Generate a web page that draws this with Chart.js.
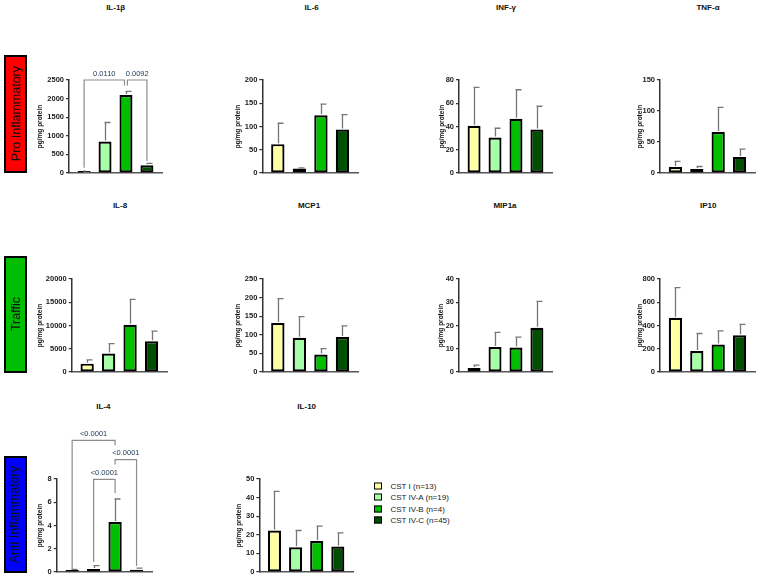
<!DOCTYPE html>
<html><head><meta charset="utf-8">
<script src="https://cdn.jsdelivr.net/npm/chart.js@4.4.0/dist/chart.umd.min.js"></script>
<style>
html,body{margin:0;padding:0;background:#fff;}
#wrap{position:relative;width:760px;height:578px;overflow:hidden;font-family:Arial,"Liberation Sans",sans-serif;}
canvas{position:absolute;}
.ttl{position:absolute;font-weight:bold;font-size:8px;color:#111;transform:translate(-50%,-50%);white-space:nowrap;}
.box{position:absolute;box-sizing:border-box;border:2px solid #000;display:flex;align-items:center;justify-content:center;}
.box span{writing-mode:vertical-rl;transform:rotate(180deg);font-size:12.5px;color:#111;white-space:nowrap;}
.leg{position:absolute;font-size:8px;color:#222;white-space:nowrap;transform:translateY(-50%);}
.sw{position:absolute;box-sizing:border-box;border:1.5px solid #000;width:8px;height:7px;transform:translateY(-50%);}
</style></head><body><div id="wrap"></div>
<script>
// ---- data ----
const groups = ['CST I (n=13)', 'CST IV-A (n=19)', 'CST IV-B (n=4)', 'CST IV-C (n=45)'];
const groupColors = ['#FFFFA6', '#A6FFA6', '#00BF00', '#004F00'];

const il1bMean = [10, 845, 2095, 205];
const il1bSd   = [8, 512, 98, 55];
const il1bTicks = [0, 500, 1000, 1500, 2000, 2500];

const il6Mean = [62, 9.5, 124, 93.6];
const il6Sd   = [45, 1.5, 24, 32];
const il6Ticks = [0, 50, 100, 150, 200];

const infgMean = [40.6, 30.5, 46.6, 37.4];
const infgSd   = [33, 8, 25, 20];
const infgTicks = [0, 20, 40, 60, 80];

const tnfaMean = [9.7, 6.5, 66, 26];
const tnfaSd   = [9, 4, 40, 12.5];
const tnfaTicks = [0, 50, 100, 150];

const il8Mean = [1800, 3960, 10140, 6620];
const il8Sd   = [800, 2150, 5470, 2160];
const il8Ticks = [0, 5000, 10000, 15000, 20000];

const mcp1Mean = [132, 92, 47, 94];
const mcp1Sd   = [65, 57, 16, 30];
const mcp1Ticks = [0, 50, 100, 150, 200, 250];

const mip1aMean = [1.7, 10.75, 10.5, 19];
const mip1aSd   = [1.3, 6.3, 4.5, 11.4];
const mip1aTicks = [0, 10, 20, 30, 40];

const ip10Mean = [466, 181, 236, 316];
const ip10Sd   = [260, 150, 117, 93];
const ip10Ticks = [0, 200, 400, 600, 800];

const il4Mean = [0.09, 0.26, 4.3, 0.2];
const il4Sd   = [0.14, 0.28, 1.98, 0.14];
const il4Ticks = [0, 2, 4, 6, 8];

const il10Mean = [22.3, 13.3, 16.7, 13.7];
const il10Sd   = [21, 9, 8, 7.3];
const il10Ticks = [0, 10, 20, 30, 40, 50];

// significance brackets: group indices, bracket level and leg ends in data units
const il1bBrackets = [
  {from: 0, to: 1.93, y: 2500, leg1: 140, leg2: 2350, label: '0.0110'},
  {from: 2.07, to: 3, y: 2500, leg1: 2350, leg2: 325, label: '0.0092'}
];
const il4Brackets = [
  {from: 0, to: 2, y: 11.33, leg1: 0.26, leg2: 10.9, label: '<0.0001'},
  {from: 2, to: 3, y: 9.67, leg1: 9.24, leg2: 0.52, label: '<0.0001'},
  {from: 1, to: 2, y: 7.97, leg1: 0.86, leg2: 6.8, label: '<0.0001'}
];

// ---- layout ----
const rows = [
  {top: 79.5, bot: 172.5, ty: 6.5},
  {top: 279.3, bot: 372.3, ty: 205},
  {top: 478.7, bot: 571.5, ty: 406}
];
const panels = [
  {title: 'IL-1β', mean: il1bMean, sd: il1bSd, ticks: il1bTicks, br: il1bBrackets, ax: 69, ar: 162, row: 0, d: 29, tx: 115.7},
  {title: 'IL-6', mean: il6Mean, sd: il6Sd, ticks: il6Ticks, ax: 262.3, ar: 358, row: 0, d: 24, tx: 311.7},
  {title: 'INF-γ', mean: infgMean, sd: infgSd, ticks: infgTicks, ax: 459, ar: 551.7, row: 0, d: 17.5, tx: 506},
  {title: 'TNF-α', mean: tnfaMean, sd: tnfaSd, ticks: tnfaTicks, ax: 660, ar: 755, row: 0, d: 20, tx: 708},
  {title: 'IL-8', mean: il8Mean, sd: il8Sd, ticks: il8Ticks, ax: 71.7, ar: 166.7, row: 1, d: 31.7, tx: 120},
  {title: 'MCP1', mean: mcp1Mean, sd: mcp1Sd, ticks: mcp1Ticks, ax: 262.3, ar: 358, row: 1, d: 24, tx: 309},
  {title: 'MIP1a', mean: mip1aMean, sd: mip1aSd, ticks: mip1aTicks, ax: 459, ar: 551.7, row: 1, d: 18, tx: 505},
  {title: 'IP10', mean: ip10Mean, sd: ip10Sd, ticks: ip10Ticks, ax: 660, ar: 755, row: 1, d: 20, tx: 708.3},
  {title: 'IL-4', mean: il4Mean, sd: il4Sd, ticks: il4Ticks, br: il4Brackets, ax: 56.7, ar: 151.7, row: 2, d: 16.7, tx: 103.3},
  {title: 'IL-10', mean: il10Mean, sd: il10Sd, ticks: il10Ticks, ax: 259.3, ar: 353.3, row: 2, d: 20, tx: 306.7}
];
const sideBoxes = [
  {text: 'Pro Inflammatory', color: '#FF0000', x: 4, y: 55, w: 23, h: 118},
  {text: 'Traffic', color: '#00BF00', x: 4, y: 255.5, w: 23, h: 117.5},
  {text: 'Anti Inflammatory', color: '#0000FF', x: 4, y: 456, w: 22.5, h: 117}
];

const wrap = document.getElementById('wrap');
const FONT = 'Arial, "Liberation Sans", sans-serif';
const PAD_TOP = 60, X_H = 8, PAD_R = 4, TITLE_LH = 6.5 * 1.2;
const X_MIN = -0.72, X_MAX = 3.72;

const errorBarPlugin = {
  id: 'errbars',
  afterDatasetsDraw(chart, args, opts) {
    const ctx = chart.ctx, y = chart.scales.y;
    const meta = chart.getDatasetMeta(0);
    ctx.save();
    ctx.strokeStyle = '#777';
    ctx.lineWidth = 1.3;
    meta.data.forEach((el, i) => {
      const top = opts.mean[i] + opts.sd[i];
      const py = y.getPixelForValue(top);
      const x = Math.round(el.x) + 0.5;
      ctx.beginPath();
      ctx.moveTo(x, el.y - 1);
      ctx.lineTo(x, py);
      ctx.moveTo(x - 1, py);
      ctx.lineTo(x + 5, py);
      ctx.stroke();
    });
    ctx.restore();
  }
};

const bracketPlugin = {
  id: 'brackets',
  afterDraw(chart, args, opts) {
    if (!opts.list) return;
    const ctx = chart.ctx, xs = chart.scales.x, ys = chart.scales.y;
    ctx.save();
    opts.list.forEach(b => {
      const x1 = xs.getPixelForValue(b.from), x2 = xs.getPixelForValue(b.to);
      const yy = ys.getPixelForValue(b.y);
      ctx.strokeStyle = '#8c8c8c';
      ctx.lineWidth = 1.2;
      ctx.beginPath();
      ctx.moveTo(x1, ys.getPixelForValue(b.leg1));
      ctx.lineTo(x1, yy);
      ctx.lineTo(x2, yy);
      ctx.lineTo(x2, ys.getPixelForValue(b.leg2));
      ctx.stroke();
      ctx.fillStyle = '#203a5c';
      ctx.font = '7.5px ' + FONT;
      ctx.textAlign = 'center';
      ctx.textBaseline = 'alphabetic';
      ctx.fillText(b.label, (x1 + x2) / 2, yy - 4.5);
    });
    ctx.restore();
  }
};

panels.forEach(p => {
  const r = rows[p.row];
  const W = p.d + TITLE_LH / 2;
  const left = Math.round(p.ax - W);
  const top = Math.round(r.top - PAD_TOP);
  const plotW = p.ar - p.ax, plotH = r.bot - r.top;
  const cw = Math.round(W + plotW + PAD_R);
  const ch = Math.round(PAD_TOP + plotH + X_H);
  const axisW = p.ax - left;
  const cv = document.createElement('canvas');
  cv.width = cw; cv.height = ch;
  cv.style.left = left + 'px'; cv.style.top = top + 'px';
  cv.style.width = cw + 'px'; cv.style.height = ch + 'px';
  wrap.appendChild(cv);

  const t = document.createElement('div');
  t.className = 'ttl';
  t.textContent = p.title;
  t.style.left = p.tx + 'px';
  t.style.top = r.ty + 'px';
  wrap.appendChild(t);

  const yMax = p.ticks[p.ticks.length - 1];
  new Chart(cv, {
    type: 'bar',
    data: {
      datasets: [{
        data: p.mean.map((v, i) => ({x: i, y: v})),
        backgroundColor: groupColors,
        borderColor: '#000',
        borderWidth: 2.2,
        borderSkipped: false,
        minBarLength: 2,
        barPercentage: 0.62,
        categoryPercentage: 1
      }]
    },
    options: {
      responsive: false,
      animation: false,
      devicePixelRatio: 1,
      layout: {padding: {top: PAD_TOP, right: PAD_R, left: 0, bottom: 0}},
      plugins: {
        legend: {display: false},
        tooltip: {enabled: false},
        title: {display: false},
        errbars: {mean: p.mean, sd: p.sd},
        brackets: {list: p.br || null}
      },
      scales: {
        x: {
          type: 'linear',
          min: X_MIN, max: X_MAX,
          bounds: 'data',
          offset: false,
          afterDataLimits: s => { s.min = X_MIN; s.max = X_MAX; },
          afterBuildTicks: s => { s.ticks = [0, 1, 2, 3].map(v => ({value: v})); },
          ticks: {display: false},
          grid: {display: false},
          border: {display: true, color: '#555', width: 1.5, dash: [2, 1.5]},
          afterFit: s => { s.height = X_H; }
        },
        y: {
          min: 0, max: yMax,
          afterBuildTicks: s => { s.ticks = p.ticks.map(v => ({value: v})); },
          ticks: {
            color: '#1a1a1a',
            padding: 2,
            font: {family: FONT, size: 7.5, weight: 'bold'},
            callback: v => String(v)
          },
          grid: {display: true, drawOnChartArea: false, drawTicks: true, tickLength: 3, color: '#333', lineWidth: 1.2},
          border: {display: true, color: '#333', width: 1.5},
          title: {display: true, text: 'pg/mg protein', color: '#111', padding: 0,
                  font: {family: FONT, size: 6.5, weight: 'bold'}},
          afterFit: s => { s.width = axisW; }
        }
      }
    },
    plugins: [errorBarPlugin, bracketPlugin]
  });
});

sideBoxes.forEach(b => {
  const d = document.createElement('div');
  d.className = 'box';
  d.style.left = b.x + 'px'; d.style.top = b.y + 'px';
  d.style.width = b.w + 'px'; d.style.height = b.h + 'px';
  d.style.background = b.color;
  const s = document.createElement('span');
  s.textContent = b.text;
  d.appendChild(s);
  wrap.appendChild(d);
});

const legY = [485.8, 497.3, 508.8, 520.3];
groups.forEach((g, i) => {
  const sw = document.createElement('div');
  sw.className = 'sw';
  sw.style.left = '374px';
  sw.style.top = legY[i] + 'px';
  sw.style.background = groupColors[i];
  wrap.appendChild(sw);
  const tx = document.createElement('div');
  tx.className = 'leg';
  tx.style.left = '390.5px';
  tx.style.top = legY[i] + 'px';
  tx.textContent = g;
  wrap.appendChild(tx);
});
</script></body></html>
